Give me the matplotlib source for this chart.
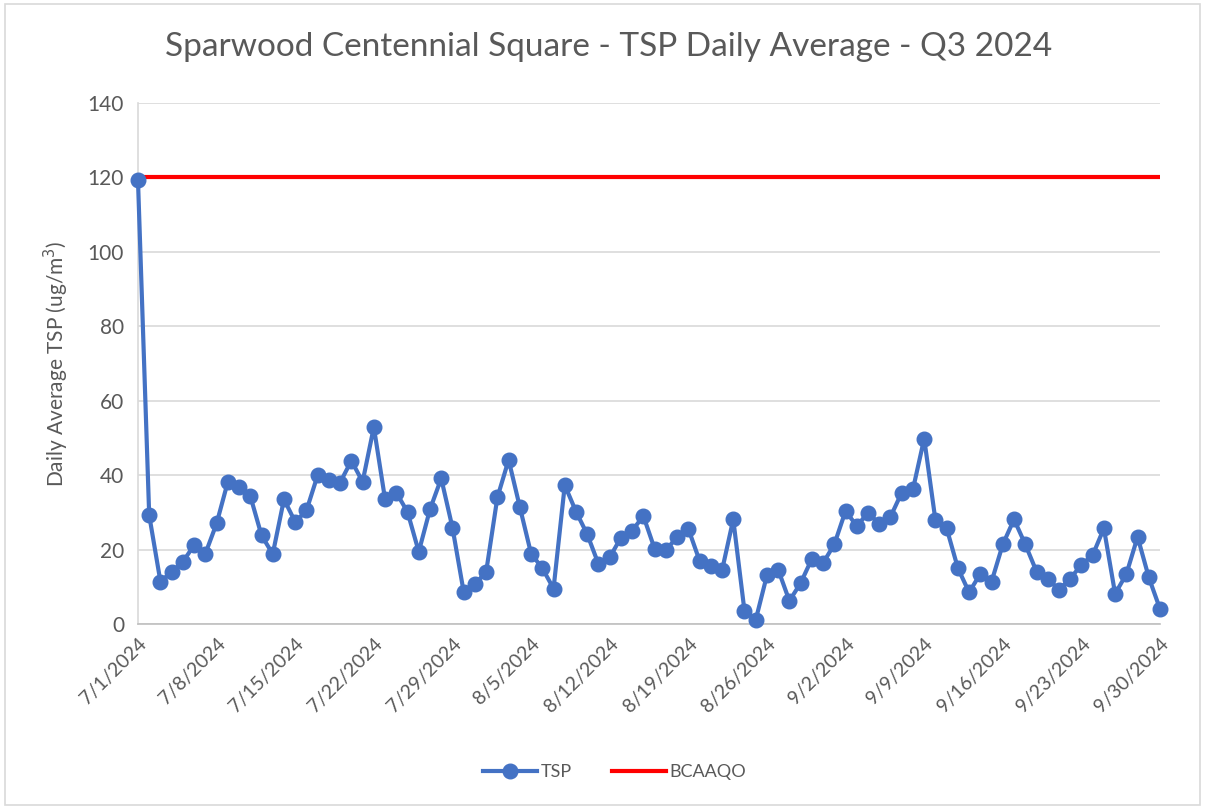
import numpy as np
import pandas as pd
import matplotlib
matplotlib.use("Agg")
import matplotlib.pyplot as plt
from matplotlib.patches import Rectangle

plt.rcParams['font.family'] = ['Lato', 'DejaVu Sans']

# 日期（7/1/2024 - 9/30/2024）
dates = pd.date_range('2024-07-01', '2024-09-30', freq='D')

# TSP 日均值
tsp = [119.3, 29.2, 11.4, 14.0, 16.7, 21.2, 18.9, 27.0, 38.2, 36.9,
       34.4, 23.8, 18.8, 33.5, 27.4, 30.5, 40.0, 38.7, 38.0, 43.9,
       38.2, 52.9, 33.5, 35.3, 30.1, 19.4, 30.8, 39.1, 25.9, 8.6,
       10.7, 14.0, 34.0, 44.1, 31.4, 18.9, 15.0, 9.5, 37.3, 30.2,
       24.1, 16.1, 17.9, 23.2, 25.1, 29.0, 20.2, 19.9, 23.3, 25.6,
       17.0, 15.7, 14.4, 28.1, 3.5, 1.1, 13.1, 14.6, 6.2, 11.0,
       17.5, 16.4, 21.4, 30.4, 26.3, 29.9, 26.9, 28.8, 35.3, 36.2,
       49.8, 27.9, 25.7, 15.0, 8.5, 13.5, 11.4, 21.4, 28.1, 21.4,
       14.1, 12.2, 9.2, 12.2, 15.9, 18.5, 25.7, 8.1, 13.4, 23.4,
       12.5, 4.0]

# 标准值
bcaaqo = [120] * len(dates)

tick_dates = dates[::7]
tick_labels = [f'{d.month}/{d.day}/{d.year}' for d in tick_dates]
y_ticks = [0, 20, 40, 60, 80, 100, 120, 140]

txt = '#595959'

fig = plt.figure(figsize=(12.05, 8.07), dpi=100)
ax = fig.add_axes([0.1145, 0.2268, 0.8482, 0.6456])

# 外框
fig.patches.append(Rectangle((0.004, 0.003), 0.992, 0.992, transform=fig.transFigure,
                             fill=False, edgecolor='#D9D9D9', linewidth=1.2))

ax.plot(dates, tsp, color='#4472C4', linewidth=3, marker='o', markersize=10.5,
        label='TSP', clip_on=False, zorder=3)
ax.plot(dates, bcaaqo, color='#FF0000', linewidth=3, label='BCAAQO', zorder=2)

ax.set_xlim(dates[0], dates[-1])
ax.set_ylim(0, 140)
ax.set_yticks(y_ticks)
ax.set_xticks(tick_dates)
ax.set_xticklabels(tick_labels, rotation=45, ha='right', rotation_mode='anchor')

ax.grid(axis='y', color='#D9D9D9', linewidth=1.2)
ax.set_axisbelow(True)
for s in ['top', 'right']:
    ax.spines[s].set_visible(False)
ax.spines['bottom'].set_color('#BFBFBF')
ax.spines['left'].set_color('#D9D9D9')
ax.spines['bottom'].set_linewidth(1.2)
ax.spines['left'].set_linewidth(1.2)
ax.tick_params(axis='both', length=0, colors=txt, pad=10)
ax.tick_params(axis='y', labelsize=15)
ax.tick_params(axis='x', labelsize=14, pad=8)

ax.set_ylabel('Daily Average TSP (ug/m$^3$)', fontsize=15, color=txt, labelpad=12)
fig.text(0.505, 0.942, 'Sparwood Centennial Square - TSP Daily Average - Q3 2024',
         ha='center', va='center', fontsize=24, color=txt)

fig.legend(loc='center', bbox_to_anchor=(0.51, 0.043), ncol=2, frameon=False,
           fontsize=13, labelcolor=txt, handlelength=3.0, columnspacing=2.2,
           handletextpad=0.2)

fig.savefig('out.png', dpi=100)
